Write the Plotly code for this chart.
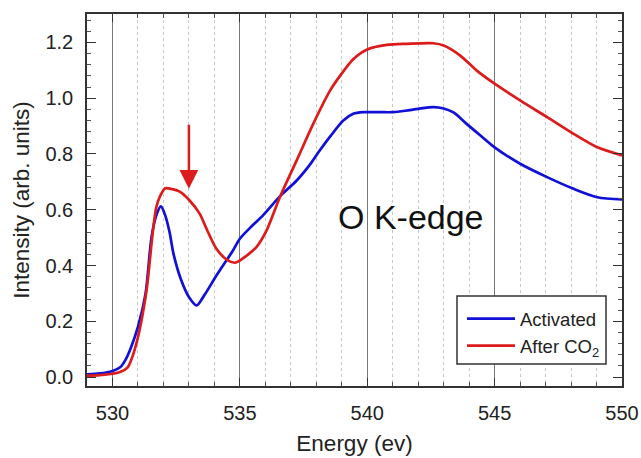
import plotly.graph_objects as go

# Data
energy_activated = [529.0, 529.5, 530.0, 530.3, 530.5, 530.7, 531.0, 531.3, 531.53, 531.72,
                    531.9, 532.07, 532.24, 532.4, 532.7, 533.0, 533.3, 533.6, 534.08, 534.47,
                    534.73, 535.0, 535.4, 535.91, 536.57, 537.23, 537.75, 538.1, 538.54, 539.06,
                    539.45, 539.85, 540.5, 541.0, 541.5, 542.0, 542.6, 543.0, 543.4,
                    543.9, 544.5, 545.0, 546.0, 547.06, 548.1, 549.03, 550.0]
intensity_activated = [0.010, 0.013, 0.022, 0.035, 0.060, 0.100, 0.180, 0.300, 0.500, 0.580,
                       0.612, 0.580, 0.520, 0.440, 0.347, 0.287, 0.257, 0.293, 0.364, 0.418,
                       0.454, 0.496, 0.535, 0.580, 0.648, 0.705, 0.762, 0.808, 0.862, 0.920,
                       0.944, 0.950, 0.950, 0.950, 0.955, 0.962, 0.968, 0.963, 0.948,
                       0.908, 0.862, 0.824, 0.765, 0.717, 0.675, 0.645, 0.637]

energy_co2 = [529.0, 529.5, 530.0, 530.3, 530.6, 530.8, 531.0, 531.19, 531.35, 531.59,
              531.72, 531.85, 532.07, 532.3, 532.64, 533.0, 533.42, 533.7, 534.08, 534.5,
              534.8, 535.0, 535.3, 535.65, 536.05, 536.57, 537.23, 537.88, 538.54, 538.93,
              539.45, 540.0, 540.77, 541.55, 542.6, 543.0, 543.65, 544.3, 545.0, 546.0,
              547.06, 548.1, 549.03, 550.0]
intensity_co2 = [0.005, 0.007, 0.012, 0.018, 0.035, 0.078, 0.143, 0.228, 0.320, 0.526,
                 0.609, 0.645, 0.677, 0.675, 0.665, 0.636, 0.586, 0.530, 0.460, 0.420,
                 0.410, 0.418, 0.438, 0.466, 0.526, 0.645, 0.777, 0.908, 1.027, 1.080,
                 1.140, 1.175, 1.191, 1.195, 1.197, 1.189, 1.153, 1.099, 1.052, 0.992,
                 0.932, 0.872, 0.824, 0.795]

x_tick_vals = [530, 535, 540, 545, 550]
y_tick_vals = [0.0, 0.2, 0.4, 0.6, 0.8, 1.0, 1.2]
y_tick_text = ["0.0", "0.2", "0.4", "0.6", "0.8", "1.0", "1.2"]

FONT = "Liberation Sans, Arial, sans-serif"

fig = go.Figure()
fig.add_trace(go.Scatter(x=energy_activated, y=intensity_activated, mode="lines",
                         name="Activated",
                         line=dict(color="#1010d8", width=2.7, shape="spline", smoothing=0.8)))
fig.add_trace(go.Scatter(x=energy_co2, y=intensity_co2, mode="lines",
                         name="After CO<sub>2</sub>",
                         line=dict(color="#dc1c1c", width=2.7, shape="spline", smoothing=0.8)))

fig.add_annotation(x=541.72, y=0.575, text="O K-edge", showarrow=False,
                   font=dict(family=FONT, size=34, color="#111"), xanchor="center", yanchor="middle")
fig.add_annotation(x=533.0, y=0.675, ax=533.0, ay=0.91, axref="x", ayref="y",
                   text="", showarrow=True, arrowhead=2, arrowsize=1.5, arrowwidth=2.5,
                   arrowcolor="#dc1c1c")

# legend frame
fig.add_shape(type="rect", xref="paper", yref="paper",
              x0=(457 - 87) / 535, x1=(606 - 87) / 535,
              y0=(386 - 364) / 372, y1=(386 - 296) / 372,
              line=dict(color="#333", width=1.5), fillcolor="white", layer="above")

fig.update_layout(
    width=641, height=458,
    margin=dict(l=87, r=19, t=14, b=72, autoexpand=False),
    paper_bgcolor="white", plot_bgcolor="white",
    font=dict(family=FONT, size=18, color="#222"),
    showlegend=True,
    legend=dict(x=(462 - 87) / 535, y=(386 - 300) / 372, xanchor="left", yanchor="top",
                bgcolor="rgba(0,0,0,0)", borderwidth=0,
                font=dict(family=FONT, size=18.5, color="#222"),
                tracegroupgap=0, itemwidth=48),
    xaxis=dict(range=[529, 550], tickvals=x_tick_vals, ticktext=[str(v) for v in x_tick_vals],
               automargin=False,
               showline=True, linecolor="#333", linewidth=1.5, mirror="ticks",
               ticks="inside", ticklen=8, tickcolor="#333", tickwidth=1,
               showgrid=True, gridcolor="#777", gridwidth=1, zeroline=False,
               ticklabelstandoff=8,
               tickfont=dict(family=FONT, size=20, color="#222"),
               title=dict(text="Energy (ev)", font=dict(family=FONT, size=22.5, color="#222"), standoff=12),
               minor=dict(dtick=1, tick0=529, ticks="inside", ticklen=4, tickcolor="#555",
                          showgrid=True, gridcolor="#c8c8c8", griddash="dot", gridwidth=1)),
    yaxis=dict(range=[-0.032, 1.302], tickvals=y_tick_vals, ticktext=y_tick_text,
               automargin=False,
               showline=True, linecolor="#333", linewidth=1.5, mirror="ticks",
               ticks="inside", ticklen=9, tickcolor="#333", tickwidth=1,
               showgrid=False, zeroline=False,
               ticklabelstandoff=8,
               tickfont=dict(family=FONT, size=20, color="#222"),
               title=dict(text="Intensity (arb. units)", font=dict(family=FONT, size=22.5, color="#222"), standoff=10),
               minor=dict(dtick=0.04, tick0=0, ticks="inside", ticklen=4, tickcolor="#555", showgrid=False)),
)

fig.write_html("out.html")
